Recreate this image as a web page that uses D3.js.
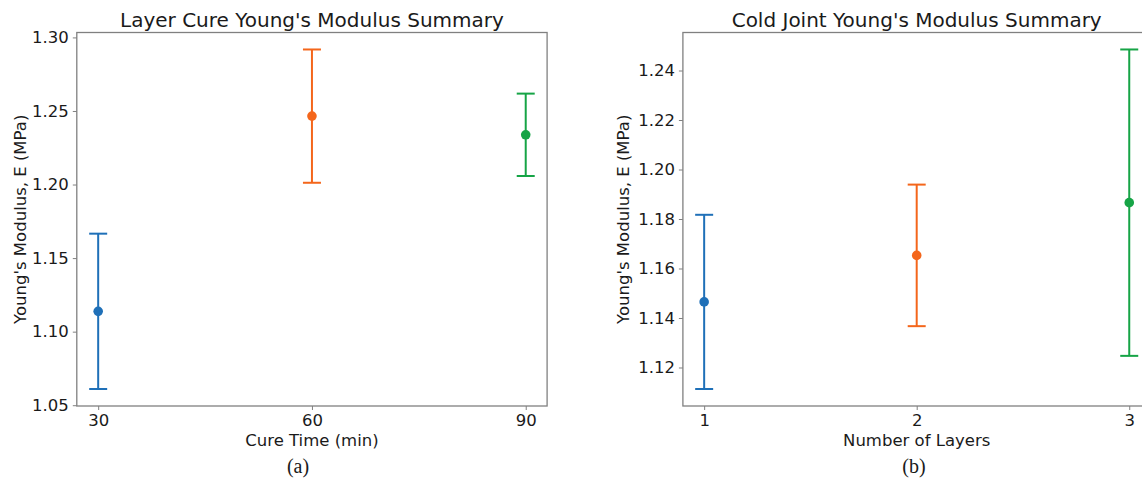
<!DOCTYPE html>
<html>
<head>
<meta charset="utf-8">
<script src="https://cdn.jsdelivr.net/npm/d3@7"></script>
<style>
  html, body { margin: 0; padding: 0; background: #fff; }
  svg { display: block; }
  text { font-family: "DejaVu Sans", sans-serif; fill: #1a1a1a; }
</style>
</head>
<body>
<svg id="chart" width="1142" height="483"></svg>
<script>
// ---- Data ----
const colors = ["#1f70b8", "#f4661b", "#16a446"];

// Panel (a): Layer Cure
const cureTimes = [30, 60, 90];
const cureMeans = [1.1138, 1.2465, 1.2338];
const cureErrors = [0.0528, 0.0453, 0.0280];
const cureYTicks = [1.05, 1.10, 1.15, 1.20, 1.25, 1.30];

// Panel (b): Cold Joint
const layerCounts = [1, 2, 3];
const layerMeans = [1.1465, 1.1653, 1.1866];
const layerErrors = [0.0352, 0.0286, 0.0619];
const layerYTicks = [1.12, 1.14, 1.16, 1.18, 1.20, 1.22, 1.24];

const svg = d3.select("#chart");

function panel(opts) {
  const { left, right, top, bottom, xs, means, errs, xTicks, yTicks, yFmt,
          title, xLabel, yLabel, yLabelX, caption, captionX } = opts;
  const n = xs.length;
  const xMin = d3.min(xs), xMax = d3.max(xs);
  const xPad = (xMax - xMin) * 0.05;
  const lo = d3.min(means.map((m, i) => m - errs[i]));
  const hi = d3.max(means.map((m, i) => m + errs[i]));
  const yPad = (hi - lo) * 0.05;

  const x = d3.scaleLinear().domain([xMin - xPad, xMax + xPad]).range([left, right]);
  const y = d3.scaleLinear().domain([lo - yPad, hi + yPad]).range([bottom, top]);

  const g = svg.append("g");

  // frame
  g.append("rect")
    .attr("x", left).attr("y", top)
    .attr("width", right - left).attr("height", bottom - top)
    .attr("fill", "none").attr("stroke", "#808080").attr("stroke-width", 1.3);

  // axes
  const xAxis = d3.axisBottom(x).tickValues(xTicks).tickSize(4).tickPadding(4).tickFormat(d3.format("d"));
  const yAxis = d3.axisLeft(y).tickValues(yTicks).tickSize(4).tickPadding(4).tickFormat(yFmt);

  const gx = g.append("g").attr("transform", `translate(0,${bottom})`).call(xAxis);
  const gy = g.append("g").attr("transform", `translate(${left},0)`).call(yAxis);
  [gx, gy].forEach(a => {
    a.select(".domain").remove();
    a.selectAll(".tick line").attr("stroke", "#808080").attr("stroke-width", 1);
    a.selectAll(".tick text").style("font-family", "DejaVu Sans, sans-serif")
      .style("font-size", "16.5px").attr("fill", "#1a1a1a");
  });

  // error bars
  const cap = 9;
  xs.forEach((xv, i) => {
    const cx = x(xv);
    const yT = y(means[i] + errs[i]);
    const yB = y(means[i] - errs[i]);
    const c = colors[i];
    g.append("line").attr("x1", cx).attr("x2", cx).attr("y1", yT).attr("y2", yB)
      .attr("stroke", c).attr("stroke-width", 2);
    g.append("line").attr("x1", cx - cap).attr("x2", cx + cap).attr("y1", yT).attr("y2", yT)
      .attr("stroke", c).attr("stroke-width", 2);
    g.append("line").attr("x1", cx - cap).attr("x2", cx + cap).attr("y1", yB).attr("y2", yB)
      .attr("stroke", c).attr("stroke-width", 2);
    g.append("circle").attr("cx", cx).attr("cy", y(means[i])).attr("r", 4.8).attr("fill", c);
  });

  // title
  g.append("text").attr("x", (left + right) / 2).attr("y", 27)
    .attr("text-anchor", "middle").style("font-size", "20px").text(title);
  // x label
  g.append("text").attr("x", (left + right) / 2).attr("y", 446)
    .attr("text-anchor", "middle").style("font-size", "16.5px").text(xLabel);
  // y label
  g.append("text").attr("transform", `translate(${yLabelX},${(top + bottom) / 2}) rotate(-90)`)
    .attr("text-anchor", "middle").attr("dy", "0.35em").style("font-size", "16.5px").text(yLabel);
  // caption
  g.append("text").attr("x", captionX).attr("y", 473)
    .attr("text-anchor", "middle")
    .style("font-family", "Liberation Serif, Times New Roman, serif")
    .style("font-size", "20px").text(caption);
}

panel({
  left: 76.8, right: 547.1, top: 32.5, bottom: 406,
  xs: cureTimes, means: cureMeans, errs: cureErrors,
  xTicks: cureTimes, yTicks: cureYTicks, yFmt: d3.format(".2f"),
  title: "Layer Cure Young's Modulus Summary",
  xLabel: "Cure Time (min)",
  yLabel: "Young's Modulus, E (MPa)", yLabelX: 20,
  caption: "(a)", captionX: 298
});

panel({
  left: 682.9, right: 1150.5, top: 32.5, bottom: 406,
  xs: layerCounts, means: layerMeans, errs: layerErrors,
  xTicks: layerCounts, yTicks: layerYTicks, yFmt: d3.format(".2f"),
  title: "Cold Joint Young's Modulus Summary",
  xLabel: "Number of Layers",
  yLabel: "Young's Modulus, E (MPa)", yLabelX: 623,
  caption: "(b)", captionX: 914
});
</script>
</body>
</html>
